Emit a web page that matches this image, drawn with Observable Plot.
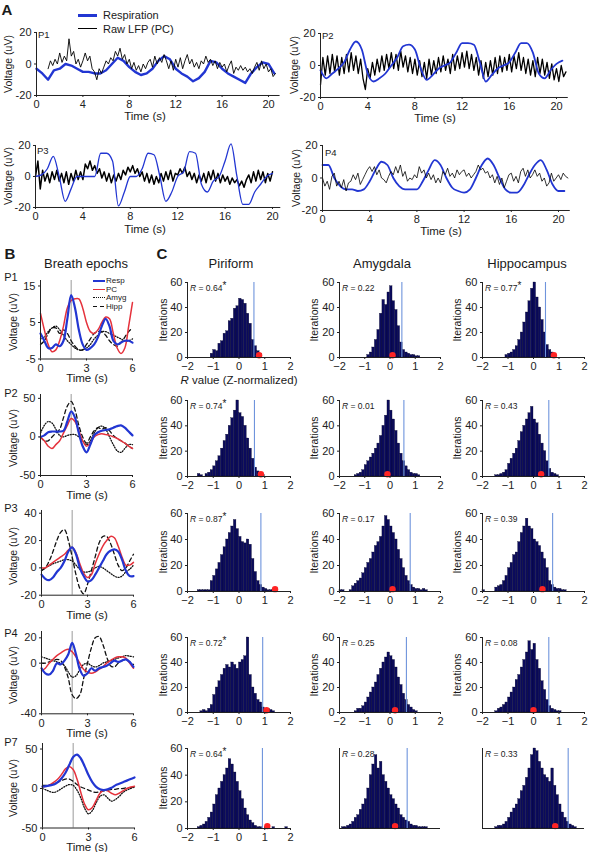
<!DOCTYPE html>
<html><head><meta charset="utf-8">
<script src="https://cdn.jsdelivr.net/npm/d3@7"></script>
<script src="https://cdn.jsdelivr.net/npm/@observablehq/plot@0.6"></script>
<style>
body{margin:0;background:#fff;}
#fig{position:relative;width:590px;height:852px;overflow:hidden;font-family:"Liberation Sans",Arial,Helvetica,sans-serif;color:#1a1a1a;background:#fff;}
.lbl{position:absolute;white-space:nowrap;line-height:1;}
.seg{position:absolute;height:0;}
</style></head>
<body><div id="fig"></div>
<script>
// ================= PANEL A DATA =================
const aRespStep = 0.5, aLfpStep = 0.2;
const aTicksX = [0, 4, 8, 12, 16, 20];
const aTicksY = [-20, 0, 20];
const p1Resp = [-3,-6,-10,-4,-3,0,-1,-3,-5,-5, -6,-6,-4,0,4,2,-2,-5,-7,-6, -3,2,5,3,-3,-6,-8,-11,-9,-5, 2,1,-3,-6,-8,-10,-12,-6,-2,1, 0,-6];
const p1LfpStart = 1.0;
const p1Lfp = [-3,2,-1,3,0,7,1,5,2,16, 5,8,0,3,-2,2,7,2,5,-3, -5,-10,-3,-6,-2,2,0,4,2,8, 5,10,3,6,0,3,-3,1,-4,-1,
  -5,0,-3,1,3,-2,5,0,4,1, 6,2,-3,2,-4,3,-2,4,-3,2, 6,0,3,-2,1,-3,2,0,5,1, 3,-1,2,-3,1,-2,0,-5,-1,2,
  -6,-2,-4,-1,-4,-2,-5,-3,-6,-2, 1,-4,2,-3,0,-5,-3,-8,-6];
const p2Resp = [-3,-8,-5,-2,2,10,15,10,-5,-10, -8,-5,0,5,12,13,10,-2,-9,-6, -2,0,2,8,14,14,13,2,-10,-6, -2,0,2,8,14,14,8,-5,-8,-3, 1,3];
const p2Lfp = [-12,5,-6,6,-5,7,-4,6,-6,5, -5,7,-4,8,-3,6,-5,4,-8,-15, -2,-8,2,-6,4,-4,6,-3,7,-2, 8,-2,7,-3,9,-1,6,-4,5,-5,
  4,-6,3,-7,2,-8,4,-6,3,-5, 5,-4,6,-3,4,-5,7,-3,6,-2, 8,-1,9,-2,7,-3,5,-6,3,-8, 2,-7,3,-6,5,-5,6,-4,5,-3,
  7,-4,6,-2,8,-3,5,-5,4,-6, 3,-7,5,-5,4,-6,2,-8,1,-9, -2,-10,0,-7,-4];
const p3Resp = [0,1,5,13,0,-16,-8,0,0,0, 0,15,15,10,-19,-10,0,0,5,15, 14,0,-16,-10,0,3,16,15,-5,-10, -3,0,10,21,0,-18,-18,-10,-5,0, 2];
const p3Lfp = [0,10,-8,4,-3,2,-4,3,-2,4, -3,2,-4,3,-5,2,-3,4,-2,3, -2,8,5,10,4,7,2,5,-1,3, -3,2,-4,1,-3,2,-2,4,1,6,
  3,7,2,5,0,3,-3,2,-4,1, -5,0,-4,2,-3,3,-2,4,-3,2, 1,5,2,6,0,3,-2,2,-4,1, -3,2,-4,3,-2,4,-3,2,-4,1,
  -3,0,-5,-1,-4,-2,-6,-3,-7,-2, 1,-4,3,-3,4,-2,3,-4,2,-3, 3];
const p4Resp = [8,8,0,-5,-7,-7,-8,-7,-2,5, 10,8,0,-5,-7,-7,-7,-2,5,11, 8,0,-6,-8,-9,-7,0,8,12,8, 0,-7,-9,-9,-5,2,8,11,5,-4, -8,-8];
const p4Lfp = [0,-5,-2,-7,1,3,-5,-2,-6,-1, -8,-3,-2,2,-1,3,-4,-1,2,5, 7,4,7,2,5,0,-1,-3,1,4, 2,7,3,8,1,4,-2,0,-1,2,
  0,7,3,5,0,3,-1,2,-3,0, -3,4,2,6,1,3,0,5,2,4, 5,1,3,0,2,4,8,5,6,3, 4,0,2,-3,1,-4,0,-6,-2,2,
  3,-2,1,-3,4,6,1,5,0,2, 5,1,3,-2,0,-5,-3,3,-2,0, 2,-1,3,1,0];

// ================= PANEL B DATA (0..6 s, every 0.25 s) =================
const bStep = 0.25;
const bTicksX = [0, 3, 6];
const b1Resp = [2,0,-2,-2,-1,-1.5,0,6,12.5,9,3,-1,-2.5,-2,-1,1,4,6,4,0,-1,-0.5,0,0,-0.5];
const b1Pc   = [7.5,3,-1,-3,-2.5,0,4,9,11,11.5,11.5,9,5,2.5,2,3,5,6.5,6,2,-2,-3.5,-2,4,10.5];
const b1Amyg = [0.5,1,2.5,3.5,4,3,1.5,0,-1,-2,-2.5,-2.5,-2,-1,0.5,1.5,2.5,2.5,2,1.5,1,0.5,0,0,0.5];
const b1Hipp = [-1,0,2,3.5,3.5,2,3,2,0,-1.5,-2.5,-2.5,-1,0.5,2,2.5,2.5,1.5,0,-1,-1.5,-0.5,1,2.5,3.5];
const b2Resp = [0,2,6,7,7,7,8,20,33,25,5,-12,-20,-10,2,6,8,9,10,12,14,15,12,7,2];
const b2Pc   = [0,-5,-12,-15,-10,-5,5,15,24,20,8,-5,-12,-8,0,3,4,3,2,0,-2,-5,-8,-12,-15];
const b2Amyg = [5,15,20,18,10,2,0,2,3,3,0,-5,-10,-5,5,12,14,10,0,-10,-18,-20,-15,-10,-10];
const b2Hipp = [0,-5,-5,0,5,10,25,40,46,35,15,0,-8,0,8,12,10,12,8,2,-2,-5,-8,-12,-15];
const b3Resp = [-5,-8,-9,-7,-3,0,5,12,15,10,0,-6,-10,-9,-5,0,5,10,12.5,13.5,12,6,-2,-6,-6];
const b3Pc   = [0,0,2,4,6,8,10,13,15,11,3,-4,-7,-5,3,10,16,20,23,22,16,8,2,2,4];
const b3Amyg = [-2,0,1.5,3,4,5,6,6,5,2,-1,-3,-3,-2,0,1,0,-2,-4,-6,-7,-6,-3,-1,2];
const b3Hipp = [-2,0,5,12,20,26,28,20,8,-5,-15,-19,-12,-2,8,18,23,23,18,10,2,-2,0,5,10];
const b4Resp = [-4,-8,-9,-6,0,-1,2,7,16,7,-5,-10,-8,-4,-6,-4,-3,-2,0,2,1,2,3,1,-3];
const b4Pc   = [-6,-4,0,3,6,8,10,11,9,5,0,-5,-7,-8,-7,-5,-3,0,2,4,5,5,4,0,-4];
const b4Amyg = [5,4,3,2,1,0,-2,-7,-11,-10,-5,-1,0,-2,-3,-2,0,1,2,3,4,5,6,5.5,5];
const b4Hipp = [0,0,1,2,3,2,-3,-12,-25,-28,-25,-12,0,12,20,21,15,5,-2,-3,0,2,3,1,-1];
const b7Resp = [2.5,3,4,5,8,13,20,30,40,43,38,28,17,8,2,-1,-2,-1,1,4,6,8,10,12,14];
const b7Pc   = [2,3,5,8,12,18,25,28,24,12,-5,-20,-27,-24,-15,-6,-2,-3,-6,-8,-6,-3,0,2,3];
const b7Amyg = [0,-2,-4,-5,-3,0,3,5,4,-2,-12,-25,-32,-28,-18,-10,-8,-12,-16,-14,-10,-5,-2,0,2];
const b7Hipp = [4,4,5,6,8,10,12,12,9,5,2,0,-2,-4,-5,-4,-3,-2,-1,-1,0,0,1,1,2];
const bNames = ["P1","P2","P3","P4","P7"];
const bTicksY = [[-5,5,15],[-50,0,50],[-20,0,20,40],[-40,0,20],[-50,0,50]];
const bDomains = [[-5,16.5],[-50,55],[-20,42],[-40,25],[-50,57]];

// ================= PANEL C DATA (bins 0.1 wide) =================
const binWidth = 0.1;
const cTicksX = [-2,-1,0,1,2];
const cTicksY = [0,20,40,60];
const regions = ["Piriform","Amygdala","Hippocampus"];
const pirP1 = [3,6,5,11,13,19,21,29,31,39,41,47,46,43,35,27,14,9,5,3];
const amyP1 = [2,4,8,14,22,35,46,42,52,57,45,38,25,12,6,4,3,2,2,1,1];
const hipP1 = [2,3,4,6,9,14,20,28,36,45,55,60,48,40,30,20,10,6,4,2];
const pirP2 = [2,1,0,2,3,5,8,12,16,22,28,33,40,46,52,60,50,47,40,30,22,14,7,4,3,1];
const amyP2 = [1,2,3,5,9,12,15,18,22,26,32,40,48,60,52,45,36,26,18,12,8,5,3,2,2,1];
const hipP2 = [1,1,2,3,5,10,14,18,22,28,35,40,45,50,55,45,42,33,26,20,12,6,3,2,1];
const pirP3 = [1,1,1,1,1,8,12,17,22,28,34,40,45,50,55,48,42,38,37,40,36,25,15,8,5,3,2,1,1,1];
const amyP3 = [1,1,0,0,1,4,6,8,10,14,18,22,25,30,35,38,42,50,58,55,50,45,40,32,25,18,12,8,5,3,2,2,1,2,1];
const hipP3 = [1,0,0,0,0,3,4,5,8,12,18,22,28,30,38,45,50,56,50,48,40,38,35,30,25,18,8,5,3,2,2,1,1];
const pirP4 = [1,2,1,3,6,14,20,25,30,35,38,36,40,38,35,40,42,45,60,30,20,15,10,8,4,2,3,2,1];
const amyP4 = [1,3,3,5,8,12,16,20,24,30,35,40,44,48,45,42,36,28,22,15,10,6,4,2,1];
const hipP4 = [1,3,4,6,8,12,16,20,26,30,36,42,48,57,50,55,42,35,25,18,10,5,3,2,1,1];
const pirP7 = [1,2,3,5,8,12,18,25,30,35,40,45,52,48,42,35,28,22,15,10,6,4,2,1,1,0,1,1,0,1,0,0,0,0,1];
const amyP7 = [1,1,2,3,5,8,10,14,18,22,30,40,48,55,45,50,40,35,30,25,22,18,15,10,8,6,5,3,2,2,1,1,1,1];
const hipP7 = [1,2,2,3,5,8,12,15,18,22,28,32,38,45,55,60,58,50,45,40,38,35,45,32,25,18,12,8,5,3,2,1];
const cCounts = [[pirP1,amyP1,hipP1],[pirP2,amyP2,hipP2],[pirP3,amyP3,hipP3],[pirP4,amyP4,hipP4],[pirP7,amyP7,hipP7]];
const cStarts = [[-1.1,-0.9,-1.1],[-1.6,-1.4,-1.5],[-1.6,-2.0,-2.0],[-1.5,-1.4,-1.5],[-1.6,-1.9,-1.5]];
const cObserved = [[0.58,0.47,0.47],[0.6,0.55,0.6],[0.85,0.8,0.75],[0.92,0.65,0.6],[0.91,0.68,1.36]];
const cRedDot = [[0.78,0.1,0.8],[0.85,-0.1,0.3],[1.4,0.1,0.35],[1.07,0.2,0.0],[1.1,0.2,0.85]];
const cRText = [["0.64","0.22","0.77"],["0.74","0.01","0.43"],["0.87","0.17","0.39"],["0.72","0.25","0.08"],["0.64","0.28","0.33"]];
const cStar = [[true,false,true],[true,false,false],[true,false,false],[true,false,false],[true,false,false]];

// ================= LAYOUT & STYLE =================
const FONT = '"Liberation Sans", Arial, Helvetica, sans-serif';
const BLUE = "#2236d2", RED = "#e5323c", NAVY = "#0b0b5c", LBLUE = "#6f94dc", AX = "#222";
const fig = document.getElementById("fig");
const dash = d => d < 0 ? "-" + (-d) : String(d);
const minus = d => d < 0 ? "\u2212" + (-d) : String(d);

function txt(html, x, y, o = {}) {
  const d = document.createElement("div");
  d.className = "lbl";
  d.innerHTML = html;
  d.style.left = x + "px"; d.style.top = y + "px";
  d.style.fontSize = (o.size || 11) + "px";
  if (o.bold) d.style.fontWeight = "bold";
  if (o.color) d.style.color = o.color;
  const ax = o.anchor === "start" ? "0" : o.anchor === "end" ? "-100%" : "-50%";
  d.style.transform = `translate(${ax},-50%)` + (o.rot ? ` rotate(${o.rot}deg)` : "");
  fig.appendChild(d);
}
function seg(x1, x2, y, color, w, style) {
  const d = document.createElement("div");
  d.className = "seg";
  d.style.left = x1 + "px"; d.style.width = (x2 - x1) + "px";
  d.style.top = (y - w / 2) + "px";
  d.style.borderTop = `${w}px ${style || "solid"} ${color}`;
  fig.appendChild(d);
}
function mkPlot({x0, x1, yTop, yBot, xDomain, yDomain, marks, noAxes}) {
  const m = 40;
  const opts = {
    width: (x1 - x0) + 2 * m, height: (yBot - yTop) + 2 * m,
    marginLeft: m, marginRight: m, marginTop: m, marginBottom: m,
    x: {domain: xDomain}, y: {domain: yDomain},
    style: {background: "transparent", overflow: "visible", fontFamily: FONT, fontSize: "11px", color: AX},
    marks
  };
  if (noAxes) { opts.x.axis = null; opts.y.axis = null; }
  const svg = Plot.plot(opts);
  svg.style.position = "absolute";
  svg.style.left = (x0 - m) + "px"; svg.style.top = (yTop - m) + "px";
  fig.appendChild(svg);
}
const series = (vals, start, step) => vals.map((v, i) => ({t: start + i * step, v}));

// ================= PANEL A =================
txt("A", 7, 9, {size: 15, bold: true});
seg(78, 97, 15, BLUE, 3); txt("Respiration", 103, 15, {anchor: "start", size: 11});
seg(78, 97, 29, "#000", 1.5); txt("Raw LFP (PC)", 103, 29, {anchor: "start", size: 11});

const aFrames = [
  {x0: 36, x1: 279.6, xMax: 21, yTop: 32, yBot: 95, resp: p1Resp, lfp: p1Lfp, lfpStart: p1LfpStart, rw: 2.4, lw: 0.9, curve: "linear", name: "P1", nx: 38, ny: 35, vx: 8, tx: 145, ty: 117},
  {x0: 320, x1: 567.8, xMax: 21, yTop: 33, yBot: 97, resp: p2Resp, lfp: p2Lfp, lfpStart: 0, rw: 1.8, lw: 1.3, curve: "monotone-x", name: "P2", nx: 322, ny: 36, vx: 294, tx: 435, ty: 119},
  {x0: 35, x1: 280.3, xMax: 20.7, yTop: 145, yBot: 207, resp: p3Resp, lfp: p3Lfp, lfpStart: 0, rw: 1.3, lw: 1.5, curve: "monotone-x", name: "P3", nx: 37, ny: 151, vx: 8, tx: 145, ty: 230},
  {x0: 322, x1: 569.8, xMax: 21, yTop: 145, yBot: 210, resp: p4Resp, lfp: p4Lfp, lfpStart: 0, rw: 1.8, lw: 0.8, curve: "monotone-x", name: "P4", nx: 325, ny: 153, vx: 296, tx: 441, ty: 232}
];
aFrames.forEach((f, i) => {
  const respD = series(f.resp, 0, aRespStep), lfpD = series(f.lfp, f.lfpStart, aLfpStep);
  const thinBlack = (i === 0 || i === 3);
  const respLine = Plot.line(respD, {x: "t", y: "v", stroke: BLUE, strokeWidth: f.rw, curve: f.curve});
  const lfpLine = Plot.line(lfpD, {x: "t", y: "v", stroke: "#000", strokeWidth: f.lw});
  const lines = thinBlack ? [respLine, lfpLine] : [lfpLine, respLine];
  mkPlot({x0: f.x0, x1: f.x1, yTop: f.yTop, yBot: f.yBot, xDomain: [0, f.xMax], yDomain: [-20, 20], marks: [
    ...lines,
    Plot.ruleX([0], {stroke: AX, strokeWidth: 1}),
    Plot.ruleY([-20], {stroke: AX, strokeWidth: 1}),
    Plot.axisY(aTicksY, {tickSize: 2, tickPadding: 3, tickFormat: dash, fontSize: 11, label: null}),
    Plot.axisX(aTicksX, {tickSize: 2, tickPadding: 3, tickFormat: dash, fontSize: 11, label: null})
  ]});
  txt(f.name, f.nx, f.ny, {anchor: "start", size: 9.5});
  txt("Voltage (uV)", f.vx, (f.yTop + f.yBot) / 2, {rot: -90, size: 10.5});
  txt("Time (s)", f.tx, f.ty, {size: 11.5});
});

// ================= PANEL B =================
txt("B", 10, 253, {size: 15, bold: true});
txt("Breath epochs", 86, 263, {size: 13});
const bData = [[b1Resp, b1Pc, b1Amyg, b1Hipp], [b2Resp, b2Pc, b2Amyg, b2Hipp], [b3Resp, b3Pc, b3Amyg, b3Hipp], [b4Resp, b4Pc, b4Amyg, b4Hipp], [b7Resp, b7Pc, b7Amyg, b7Hipp]];
const bFrames = [
  {x0: 40, x1: 132, yBot: 358, nameY: 277},
  {x0: 40, x1: 132, yBot: 475, nameY: 393},
  {x0: 41, x1: 133, yBot: 595, nameY: 508},
  {x0: 41, x1: 133, yBot: 713, nameY: 633},
  {x0: 42, x1: 134, yBot: 827, nameY: 742}
];
const bTops = [279.5, 394, 510.3, 630.7, 742.5];
bFrames.forEach((f, i) => {
  const [resp, pc, amyg, hipp] = bData[i].map(a => series(a, 0, bStep));
  mkPlot({x0: f.x0, x1: f.x1, yTop: bTops[i], yBot: f.yBot, xDomain: [0, 6], yDomain: bDomains[i], marks: [
    Plot.ruleX([2], {stroke: "#9a9a9a", strokeWidth: 1}),
    Plot.line(amyg, {x: "t", y: "v", stroke: "#111", strokeWidth: 1.3, strokeDasharray: "1,1.6", curve: "catmull-rom"}),
    Plot.line(hipp, {x: "t", y: "v", stroke: "#111", strokeWidth: 1.3, strokeDasharray: "4,3", curve: "catmull-rom"}),
    Plot.line(pc, {x: "t", y: "v", stroke: RED, strokeWidth: 1.5, curve: "catmull-rom"}),
    Plot.line(resp, {x: "t", y: "v", stroke: BLUE, strokeWidth: 2.2, curve: "catmull-rom"}),
    Plot.ruleX([0], {stroke: AX, strokeWidth: 1}),
    Plot.ruleY([bDomains[i][0]], {stroke: AX, strokeWidth: 1}),
    Plot.axisY(bTicksY[i], {tickSize: 2, tickPadding: 3, tickFormat: dash, fontSize: 11, label: null}),
    Plot.axisX(bTicksX, {tickSize: 2, tickPadding: 3, tickFormat: dash, fontSize: 11, label: null})
  ]});
  txt(bNames[i], 11, f.nameY, {size: 11});
  txt("Voltage (uV)", 13, (bTops[i] + f.yBot) / 2 + 3, {rot: -90, size: 10.5});
  txt("Time (s)", 87, f.yBot + 21, {size: 11.5});
});
// legend in B P1
seg(93, 105, 281, BLUE, 2.2); txt("Resp", 106, 281, {anchor: "start", size: 8});
seg(93, 105, 289.5, RED, 1.5); txt("PC", 106, 289.5, {anchor: "start", size: 8});
seg(93, 105, 298, "#111", 1.5, "dotted"); txt("Amyg", 106, 298, {anchor: "start", size: 8});
seg(93, 97, 306.5, "#111", 1.5); seg(100, 104, 306.5, "#111", 1.5); txt("Hipp", 106, 306.5, {anchor: "start", size: 8});

// ================= PANEL C =================
txt("C", 162, 253, {size: 15, bold: true});
const cCols = [[187, 290], [339, 440], [482, 584]];
const cRows = [[282, 357], [400, 476], [513, 591], [637, 712], [748, 828]];
const cTitleX = [231, 382, 527];
const cIterX = [163, 314, 457];
regions.forEach((r, j) => txt(r, cTitleX[j], 263, {size: 13}));
cRows.forEach(([yTop, yBot], i) => {
  cCols.forEach(([x0, x1], j) => {
    const bins = cCounts[i][j].map((c, k) => ({x1: cStarts[i][j] + k * binWidth, x2: cStarts[i][j] + (k + 1) * binWidth, c}));
    const bare = (i === 4 && j > 0);
    const marks = [
      Plot.rectY(bins, {x1: "x1", x2: "x2", y: "c", fill: NAVY, stroke: "#000022", strokeWidth: 0.3}),
      Plot.ruleX([cObserved[i][j]], {y1: 0, y2: 60, stroke: LBLUE, strokeWidth: 1.1}),
      Plot.dot([{x: cRedDot[i][j], y: 1.8}], {x: "x", y: "y", r: 3.2, fill: "#ff2424", stroke: "none"}),
      Plot.ruleX([-2], {stroke: AX, strokeWidth: 1}),
      Plot.ruleY([0], {stroke: AX, strokeWidth: 1})
    ];
    if (!bare) {
      marks.push(Plot.axisY(cTicksY, {tickSize: 2, tickPadding: 3, tickFormat: minus, fontSize: 11, label: null}));
      marks.push(Plot.axisX(cTicksX, {tickSize: 2, tickPadding: 3, tickFormat: minus, fontSize: 11, label: null}));
    }
    mkPlot({x0, x1, yTop, yBot, xDomain: [-2, 2], yDomain: [0, 60], marks, noAxes: bare});
    if (!bare) txt("Iterations", cIterX[j], (yTop + yBot) / 2, {rot: -90, size: 10.5});
    const star = cStar[i][j] ? '<span style="position:relative;top:-2px;font-size:10px">*</span>' : "";
    txt(`<i>R</i> = ${cRText[i][j]}${star}`, x0 + 3, yTop + 6, {anchor: "start", size: 8.5});
  });
});
txt("<i>R</i> value (Z-normalized)", 239, 381, {size: 11.5});
</script>
</body></html>
